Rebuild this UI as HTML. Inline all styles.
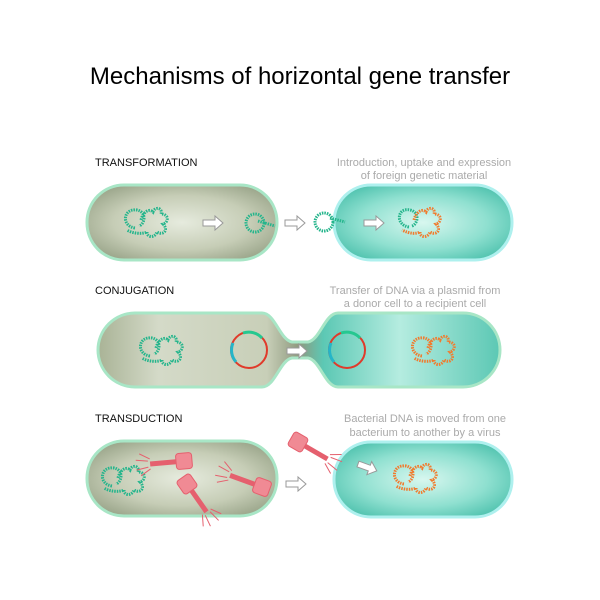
<!DOCTYPE html>
<html><head><meta charset="utf-8"><style>
body{margin:0;background:#fff;width:600px;height:600px;overflow:hidden}
svg{display:block}
</style></head><body>
<svg width="600" height="600" viewBox="0 0 600 600" xmlns="http://www.w3.org/2000/svg">
<defs>
<radialGradient id="gy" cx="50%" cy="50%" r="60%">
<stop offset="0" stop-color="#e6ebde"/><stop offset="0.6" stop-color="#c6cdb6"/><stop offset="1" stop-color="#9aa58a"/></radialGradient>
<radialGradient id="tq" cx="50%" cy="50%" r="60%">
<stop offset="0" stop-color="#d8f7ef"/><stop offset="0.6" stop-color="#8fe0d0"/><stop offset="1" stop-color="#4fc2ae"/></radialGradient>
<linearGradient id="cj" gradientUnits="userSpaceOnUse" x1="98" y1="0" x2="500" y2="0">
<stop offset="0" stop-color="#a9b396"/><stop offset="0.15" stop-color="#d4dac8"/><stop offset="0.42" stop-color="#c8cfb8"/><stop offset="0.5" stop-color="#8f9a7f"/><stop offset="0.56" stop-color="#5cc8b4"/><stop offset="0.75" stop-color="#b5ece0"/><stop offset="1" stop-color="#5cc8b4"/></linearGradient>
<path id="dna" d="M-8,6 C-22,4 -20,-14 -6,-12 C4,-10 2,2 -4,4 M-2,-2 C0,-10 6,-14 10,-10 C12,-16 20,-14 18,-8 C26,-8 26,0 20,2 C26,8 20,14 14,10 C12,16 4,16 4,10 C0,12 -10,12 -16,8"/>
<g id="arr"><path d="M0,-3 H12 V-7 L20,0 L12,7 V3 H0 Z" fill="#fff" stroke="#999" stroke-width="1"/></g>
<g id="phage">
<rect x="-8" y="-8" width="16" height="16" rx="3" fill="#f08a94" stroke="#e5606e"/>
<line x1="8" y1="0" x2="34" y2="0" stroke="#e5606e" stroke-width="5"/>
<path d="M34,-5 l10,-6 M34,5 l10,6 M36,-3 l12,-2 M36,3 l12,2" stroke="#e5606e" stroke-width="1"/>
</g>
</defs>
<text x="300" y="84" font-family="Liberation Sans, sans-serif" font-size="24" text-anchor="middle" fill="#000">Mechanisms of horizontal gene transfer</text>

<g font-family="Liberation Sans, sans-serif" font-size="11">
<text x="95" y="166" fill="#111">TRANSFORMATION</text>
<text x="95" y="294" fill="#111">CONJUGATION</text>
<text x="95" y="422" fill="#111">TRANSDUCTION</text>
<g fill="#aaa" text-anchor="middle">
<text x="424" y="166">Introduction, uptake and expression</text>
<text x="424" y="179">of foreign genetic material</text>
<text x="415" y="294">Transfer of DNA via a plasmid from</text>
<text x="415" y="307">a donor cell to a recipient cell</text>
<text x="425" y="422">Bacterial DNA is moved from one</text>
<text x="425" y="436">bacterium to another by a virus</text>
</g></g>

<!-- row 1 -->
<rect x="87" y="185" width="190" height="75" rx="37" fill="url(#gy)" stroke="#a8e6c6" stroke-width="3"/>
<rect x="334" y="185" width="178" height="75" rx="37" fill="url(#tq)" stroke="#aef0ee" stroke-width="3"/>
<g fill="none" stroke-width="3" stroke-dasharray="1.5 1">
<use href="#dna" x="143" y="222" stroke="#25b58c"/>
<circle cx="255" cy="223" r="9" stroke="#25b58c"/>
<path d="M258,221 L275,226" stroke="#25b58c"/>
<circle cx="324" cy="222" r="9" stroke="#25b58c"/>
<path d="M330,218 L345,222" stroke="#25b58c"/>
<path d="M409,227 C395,225 397,207 410,210 C420,212 418,224 412,226" stroke="#25b58c"/>
<path d="M414,220 C416,212 422,208 426,212 C428,206 436,208 434,214 C442,214 442,222 436,224 C442,230 436,236 430,232 C428,238 420,238 420,232 C416,234 410,234 402,230" stroke="#f07b2e"/>
</g>
<use href="#arr" x="203" y="223"/><use href="#arr" x="285" y="223"/><use href="#arr" x="364" y="223"/>

<!-- row 2 -->
<path d="M135,313 H262 C275,313 280,340 292,342 H308 C320,340 325,313 338,313 H463 A37,37 0 0 1 463,387 H338 C325,387 320,360 308,358 H292 C280,360 275,387 262,387 H135 A37,37 0 0 1 135,313 Z" fill="url(#cj)" stroke="#a8e6c6" stroke-width="3"/>
<g fill="none" stroke-width="3" stroke-dasharray="1.5 1">
<use href="#dna" x="158" y="350" stroke="#25b58c"/>
<use href="#dna" x="430" y="350" stroke="#f07b2e"/>
</g>
<circle cx="249" cy="350" r="18" fill="none" stroke="#e03a2a" stroke-width="2"/>
<path d="M233,343 A18,18 0 0 0 236,362" fill="none" stroke="#25b5c8" stroke-width="3"/>
<path d="M243,333 A18,18 0 0 1 262,338" fill="none" stroke="#25c890" stroke-width="3"/>
<circle cx="347" cy="350" r="18" fill="none" stroke="#e03a2a" stroke-width="2"/>
<path d="M331,343 A18,18 0 0 0 334,362" fill="none" stroke="#25b5c8" stroke-width="3"/>
<path d="M341,333 A18,18 0 0 1 360,338" fill="none" stroke="#25c890" stroke-width="3"/>
<use href="#arr" x="287" y="351"/>

<!-- row 3 -->
<rect x="87" y="441" width="190" height="75" rx="37" fill="url(#gy)" stroke="#a8e6c6" stroke-width="3"/>
<rect x="334" y="442" width="178" height="75" rx="37" fill="url(#tq)" stroke="#aef0ee" stroke-width="3"/>
<g fill="none" stroke-width="3" stroke-dasharray="1.5 1">
<use href="#dna" x="120" y="480" stroke="#25b58c"/>
<use href="#dna" x="412" y="478" stroke="#f07b2e"/>
</g>
<use href="#phage" transform="translate(184,461) rotate(175)"/>
<use href="#phage" transform="translate(187,484) rotate(55)"/>
<use href="#phage" transform="translate(262,487) rotate(200)"/>
<use href="#phage" transform="translate(298,442) rotate(30)"/>
<use href="#arr" x="286" y="484"/>
<use href="#arr" transform="translate(358,464) rotate(20)"/>
</svg>
</body></html>
